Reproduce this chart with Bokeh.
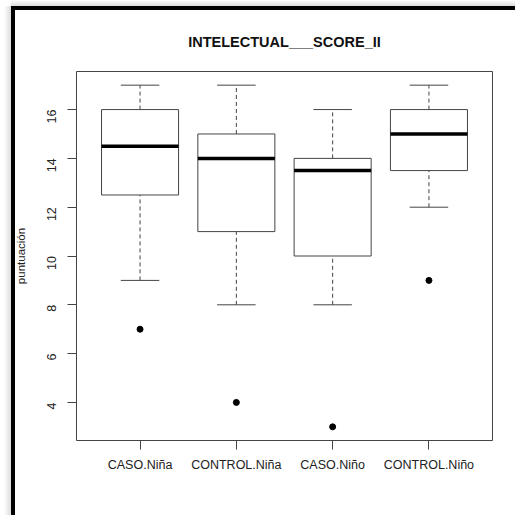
import math
from bokeh.plotting import figure
from bokeh.models import Range1d, FixedTicker, ColumnDataSource
from bokeh.embed import file_html
from bokeh.resources import INLINE

categories = ["CASO.Niña", "CONTROL.Niña", "CASO.Niño", "CONTROL.Niño"]
lower_whisker = [9, 8, 8, 12]
q1 = [12.5, 11, 10, 13.5]
median = [14.5, 14, 13.5, 15]
q3 = [16, 15, 14, 16]
upper_whisker = [17, 17, 16, 17]
outlier_group = [1, 2, 3, 4]
outlier_value = [7, 4, 3, 9]
y_ticks = [4, 6, 8, 10, 12, 14, 16]
title_text = "INTELECTUAL___SCORE_II"

pos = list(range(1, len(categories) + 1))
src = ColumnDataSource(dict(x=pos, lw=lower_whisker, q1=q1, med=median, q3=q3, uw=upper_whisker,
                            cl=[p - 0.2 for p in pos], cr=[p + 0.2 for p in pos],
                            bl=[p - 0.4 for p in pos], br=[p + 0.4 for p in pos]))

FONT = "Liberation Sans"
p = figure(width=515, height=515, output_backend="svg", toolbar_location=None,
           x_range=Range1d(0.34, 4.66), y_range=Range1d(2.44, 17.56),
           min_border_left=76, min_border_right=23, min_border_top=71, min_border_bottom=75,
           title=title_text)
p.background_fill_color = "white"
p.border_fill_color = None
p.grid.visible = False
p.outline_line_color = "#444444"
p.outline_line_width = 1

# outer thick border (left/top) with soft shadow, drawn as page background behind the transparent canvas
p.styles = {
    "background": (
        "linear-gradient(#000,#000) 11px 6px / 4px 509px no-repeat, "
        "linear-gradient(#000,#000) 11px 6px / 504px 4px no-repeat, "
        "linear-gradient(to right, #ffffff, #dcdcdc) 4px 6px / 7px 509px no-repeat, "
        "linear-gradient(to bottom, #ffffff, #dcdcdc) 11px 0px / 504px 6px no-repeat, "
        "#ffffff"
    )
}

p.title.text_font = FONT
p.title.text_font_size = "14.5px"
p.title.text_font_style = "bold"
p.title.align = "center"
p.title.text_color = "#111111"
p.title.standoff = 44

# whiskers
p.segment(x0="x", y0="q3", x1="x", y1="uw", source=src, line_color="#444444", line_dash="4 3", line_width=1)
p.segment(x0="x", y0="lw", x1="x", y1="q1", source=src, line_color="#444444", line_dash="4 3", line_width=1)
p.segment(x0="cl", y0="uw", x1="cr", y1="uw", source=src, line_color="#444444", line_width=1)
p.segment(x0="cl", y0="lw", x1="cr", y1="lw", source=src, line_color="#444444", line_width=1)
# boxes
p.quad(left="bl", right="br", bottom="q1", top="q3", source=src, fill_color="white", line_color="#444444", line_width=1)
p.segment(x0="bl", y0="med", x1="br", y1="med", source=src, line_color="black", line_width=3.5)
# outliers
p.scatter(outlier_group, outlier_value, size=6, color="black")

# axes
p.xaxis.ticker = FixedTicker(ticks=pos)
p.xaxis.major_label_overrides = {i + 1: c for i, c in enumerate(categories)}
p.yaxis.ticker = FixedTicker(ticks=y_ticks)
p.yaxis.major_label_orientation = math.pi / 2
for ax in (p.xaxis[0], p.yaxis[0]):
    ax.axis_line_color = None
    ax.major_tick_line_color = "#444444"
    ax.major_tick_in = 0
    ax.major_tick_out = 9
    ax.minor_tick_line_color = None
    ax.major_label_text_font = FONT
    ax.major_label_text_font_size = "12.5px"
    ax.major_label_text_color = "#222222"
p.xaxis.major_label_standoff = 8
p.yaxis.major_label_standoff = 16
p.yaxis.axis_label = "puntuación"
p.yaxis.axis_label_text_font = FONT
p.yaxis.axis_label_text_font_size = "11.5px"
p.yaxis.axis_label_text_font_style = "normal"
p.yaxis.axis_label_text_color = "#222222"
p.yaxis.axis_label_standoff = 13

open("out.html", "w").write(file_html(p, INLINE))
